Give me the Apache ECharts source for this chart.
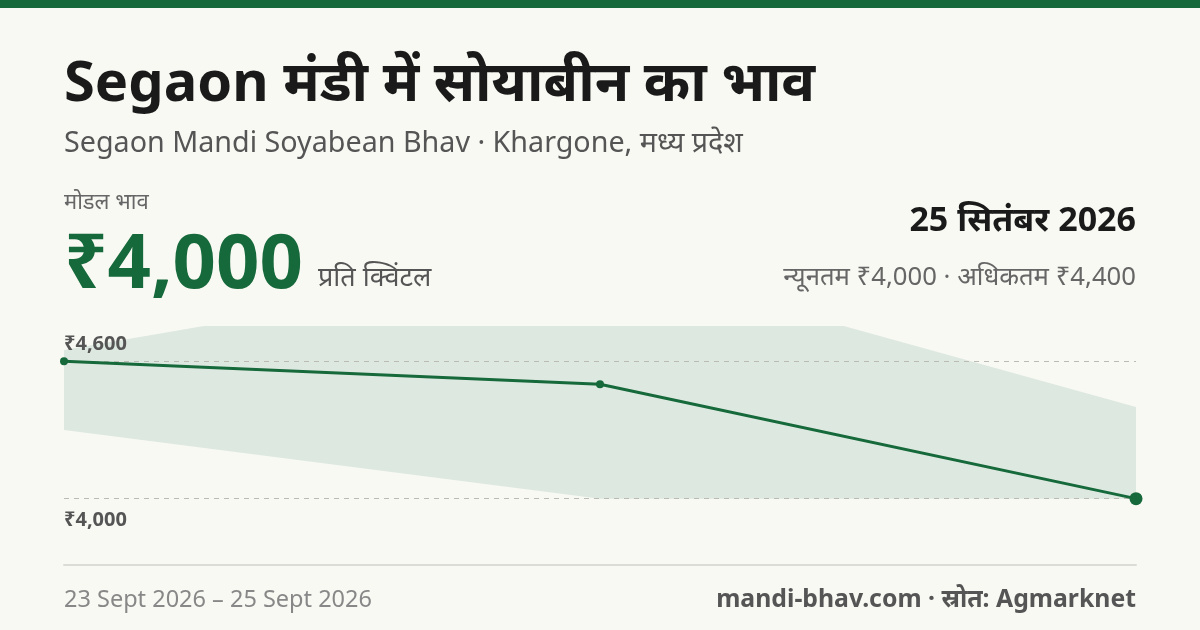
<!DOCTYPE html>
<html>
<head>
<meta charset="utf-8">
<script src="https://cdn.jsdelivr.net/npm/echarts@6/dist/echarts.min.js"></script>
<style>
  html, body { margin: 0; padding: 0; background: #f9f9f4; }
  #main { width: 1200px; height: 630px; }
</style>
</head>
<body>
<div id="main"></div>
<script>
// data
const dates = ['23 Sept', '24 Sept', '25 Sept'];
const modalPrice = [4600, 4500, 4000];
const minPrice = [4300, 4000, 4000];
const maxPrice = [4650, 5050, 4400];
const refLines = [4600, 4000];

const green = '#16693a';
const font = '"Noto Sans", "Noto Sans Devanagari", sans-serif';

let chart = echarts.init(document.getElementById('main'));

const option = {
  backgroundColor: '#f9f9f4',
  animation: false,
  grid: { left: 64, right: 64, top: 327, bottom: 65 },
  xAxis: {
    type: 'category',
    data: dates,
    boundaryGap: false,
    axisLine: { lineStyle: { color: '#dcdcd6', width: 2 } },
    axisTick: { show: false },
    axisLabel: { show: false }
  },
  yAxis: {
    type: 'value',
    min: 3710,
    max: 4750,
    show: false
  },
  graphic: [
    { type: 'rect', left: 0, top: 0, shape: { width: 1200, height: 8 }, style: { fill: green } },
    { type: 'text', left: 64, top: 57, style: { text: 'Segaon मंडी में सोयाबीन का भाव', font: 'bold 56px ' + font, fill: '#1a1a1a' } },
    { type: 'text', left: 64, top: 129, style: { text: 'Segaon Mandi Soyabean Bhav · Khargone, मध्य प्रदेश', font: '28.7px ' + font, fill: '#555' } },
    { type: 'text', left: 64, top: 192, style: { text: 'मोडल भाव', font: '22px ' + font, fill: '#666' } },
    { type: 'text', left: 64, top: 228, style: { text: '₹4,000', font: 'bold 76px ' + font, fill: green } },
    { type: 'text', left: 318, top: 265, style: { text: 'प्रति क्विंटल', font: '27px ' + font, fill: '#555' } },
    { type: 'text', right: 64, top: 204, style: { text: '25 सितंबर 2026', font: 'bold 34px ' + font, fill: '#1a1a1a', align: 'right' } },
    { type: 'text', right: 64, top: 265, style: { text: 'न्यूनतम ₹4,000 · अधिकतम ₹4,400', font: '25.7px ' + font, fill: '#666', align: 'right' } },
    { type: 'text', left: 64, top: 588, style: { text: '23 Sept 2026 – 25 Sept 2026', font: '23.5px ' + font, fill: '#888' } },
    { type: 'text', right: 64, top: 587, style: { text: 'mandi-bhav.com · स्रोत: Agmarknet', font: 'bold 24.8px ' + font, fill: '#555', align: 'right' } }
  ],
  series: [
    {
      type: 'line', stack: 'band', data: minPrice,
      lineStyle: { opacity: 0 }, symbol: 'none', silent: true
    },
    {
      type: 'line', stack: 'band',
      data: maxPrice.map((v, i) => v - minPrice[i]),
      lineStyle: { opacity: 0 }, symbol: 'none', silent: true,
      areaStyle: { color: '#dde8e0', opacity: 1 }
    },
    {
      type: 'line',
      data: modalPrice.map((v, i) => ({
        value: v,
        symbolSize: i === modalPrice.length - 1 ? 13 : 8
      })),
      symbol: 'circle',
      itemStyle: { color: green },
      lineStyle: { color: green, width: 3 },
      z: 5,
      markLine: {
        silent: true,
        symbol: 'none',
        lineStyle: { color: '#bbbbb4', type: [5, 5], width: 1 },
        data: refLines.map((v, i) => ({
          yAxis: v,
          label: {
            position: i === 0 ? 'insideStartTop' : 'insideStartBottom',
            distance: i === 0 ? [0, 7] : [0, 12],
            formatter: '₹' + v.toLocaleString('en-IN'),
            color: '#555', fontWeight: 'bold', fontSize: 20, fontFamily: font
          }
        }))
      }
    }
  ]
};

chart.setOption(option);
</script>
</body>
</html>
